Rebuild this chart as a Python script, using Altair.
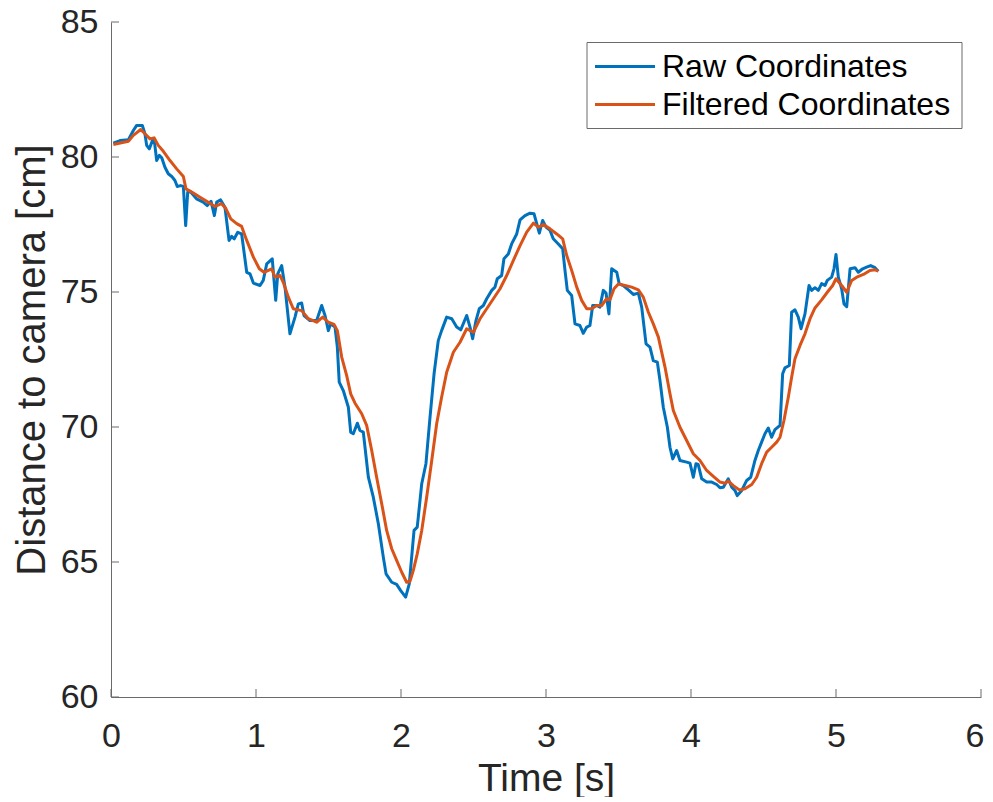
import altair as alt
import pandas as pd

# ---------------- data ----------------
series_names = ["Raw Coordinates", "Filtered Coordinates"]

raw_t = [0.016, 0.062, 0.12, 0.154, 0.177, 0.216, 0.234, 0.246, 0.264, 0.288, 0.30, 0.315, 0.333, 0.35,
         0.372, 0.395, 0.419, 0.441, 0.457, 0.48, 0.499, 0.515, 0.529, 0.545, 0.59, 0.636, 0.664, 0.69,
         0.713, 0.729, 0.756, 0.786, 0.814, 0.832, 0.85, 0.874, 0.901, 0.936, 0.959, 0.982, 1.028, 1.05,
         1.074, 1.112, 1.136, 1.15, 1.177, 1.2, 1.234, 1.269, 1.292, 1.315, 1.331, 1.372, 1.418, 1.453,
         1.476, 1.499, 1.515, 1.545, 1.561, 1.574, 1.602, 1.637, 1.653, 1.671, 1.699, 1.717, 1.74, 1.775,
         1.809, 1.844, 1.878, 1.897, 1.936, 1.97, 1.998, 2.032, 2.057, 2.09, 2.112, 2.143, 2.172, 2.2,
         2.228, 2.257, 2.28, 2.315, 2.35, 2.384, 2.412, 2.453, 2.476, 2.494, 2.517, 2.54, 2.568, 2.591,
         2.626, 2.648, 2.664, 2.694, 2.71, 2.74, 2.763, 2.798, 2.821, 2.855, 2.89, 2.917, 2.936, 2.954,
         2.977, 3.0, 3.028, 3.05, 3.085, 3.115, 3.131, 3.147, 3.177, 3.2, 3.234, 3.257, 3.281, 3.303,
         3.322, 3.349, 3.372, 3.395, 3.414, 3.434, 3.453, 3.488, 3.505, 3.533, 3.568, 3.602, 3.637, 3.66,
         3.69, 3.717, 3.74, 3.768, 3.786, 3.809, 3.837, 3.855, 3.874, 3.901, 3.924, 3.97, 3.993, 4.016,
         4.034, 4.05, 4.074, 4.108, 4.143, 4.177, 4.2, 4.223, 4.257, 4.281, 4.303, 4.319, 4.35, 4.384,
         4.412, 4.441, 4.464, 4.487, 4.51, 4.533, 4.556, 4.579, 4.614, 4.632, 4.648, 4.678, 4.694, 4.717,
         4.74, 4.759, 4.786, 4.814, 4.832, 4.855, 4.878, 4.901, 4.924, 4.94, 4.97, 4.986, 5.0, 5.016,
         5.039, 5.055, 5.074, 5.097, 5.131, 5.154, 5.184, 5.211, 5.239, 5.269, 5.292]
raw_v = [80.51, 80.61, 80.64, 80.98, 81.17, 81.17, 80.86, 80.43, 80.30, 80.64, 80.55, 79.87, 80.06, 79.97,
         79.62, 79.38, 79.28, 79.13, 78.91, 78.94, 78.91, 77.46, 78.70, 78.73, 78.45, 78.33, 78.20, 78.36,
         77.83, 78.33, 78.41, 78.14, 76.91, 77.06, 76.97, 77.21, 77.15, 75.73, 75.67, 75.33, 75.24, 75.43,
         76.04, 76.23, 74.69, 75.67, 75.98, 75.18, 73.45, 74.07, 74.56, 74.59, 74.13, 73.94, 73.94, 74.50,
         74.13, 73.57, 73.82, 73.70, 72.96, 71.66, 71.35, 70.73, 69.81, 69.75, 70.14, 69.87, 69.81, 68.14,
         67.40, 66.41, 65.18, 64.56, 64.25, 64.17, 63.94, 63.70, 64.19, 66.17, 66.29, 67.90, 68.64, 70.36,
         71.97, 73.20, 73.57, 74.07, 74.01, 73.70, 73.60, 74.13, 73.70, 73.27, 73.94, 74.38, 74.50, 74.75,
         75.06, 75.18, 75.49, 75.61, 76.23, 76.41, 76.78, 77.15, 77.67, 77.83, 77.92, 77.90, 77.53, 77.18,
         77.65, 77.40, 77.28, 76.97, 76.78, 76.60, 75.80, 75.06, 74.87, 73.82, 73.76, 73.47, 73.70, 73.76,
         74.50, 74.50, 74.44, 75.06, 74.96, 74.19, 75.86, 75.73, 75.30, 75.24, 75.08, 74.91, 74.96, 74.44,
         73.08, 72.96, 72.46, 72.40, 71.72, 70.73, 69.99, 69.25, 68.82, 69.13, 68.76, 68.70, 68.66, 68.14,
         68.64, 68.61, 68.08, 67.96, 67.96, 67.87, 67.75, 67.77, 68.08, 67.77, 67.65, 67.46, 67.65, 68.02,
         68.14, 68.76, 69.13, 69.44, 69.75, 69.96, 69.62, 69.90, 70.06, 71.97, 72.19, 72.28, 74.25, 74.34,
         74.07, 73.64, 74.19, 75.24, 75.06, 75.16, 75.06, 75.31, 75.24, 75.43, 75.55, 75.86, 76.39, 75.55,
         75.12, 74.56, 74.46, 75.86, 75.90, 75.73, 75.86, 75.92, 75.98, 75.90, 75.77]

filt_t = [0.016, 0.12, 0.154, 0.205, 0.234, 0.269, 0.297, 0.326, 0.361, 0.407, 0.453, 0.499, 0.517, 0.557,
          0.614, 0.66, 0.717, 0.763, 0.793, 0.826, 0.867, 0.901, 0.936, 0.982, 1.023, 1.055, 1.108, 1.131,
          1.166, 1.188, 1.223, 1.257, 1.315, 1.361, 1.418, 1.46, 1.499, 1.538, 1.561, 1.591, 1.625, 1.653,
          1.683, 1.729, 1.763, 1.798, 1.832, 1.867, 1.901, 1.936, 1.97, 2.005, 2.039, 2.062, 2.085, 2.112,
          2.143, 2.177, 2.212, 2.246, 2.28, 2.315, 2.361, 2.407, 2.453, 2.499, 2.545, 2.591, 2.637, 2.683,
          2.729, 2.775, 2.821, 2.867, 2.913, 2.947, 2.982, 3.028, 3.074, 3.115, 3.143, 3.177, 3.212, 3.246,
          3.281, 3.315, 3.349, 3.384, 3.418, 3.441, 3.469, 3.499, 3.545, 3.591, 3.637, 3.671, 3.706, 3.74,
          3.775, 3.821, 3.855, 3.878, 3.924, 3.97, 4.016, 4.062, 4.108, 4.154, 4.2, 4.234, 4.257, 4.292,
          4.333, 4.372, 4.419, 4.453, 4.487, 4.522, 4.556, 4.591, 4.614, 4.641, 4.671, 4.694, 4.717, 4.752,
          4.786, 4.821, 4.855, 4.901, 4.94, 4.977, 5.0, 5.039, 5.074, 5.108, 5.143, 5.189, 5.234, 5.269,
          5.292]
filt_v = [80.46, 80.58, 80.80, 81.02, 80.86, 80.67, 80.71, 80.43, 80.21, 79.87, 79.56, 79.28, 78.82, 78.70,
          78.51, 78.36, 78.17, 78.27, 78.08, 77.71, 77.53, 77.43, 76.91, 76.29, 75.86, 75.73, 75.86, 75.55,
          75.61, 75.36, 74.81, 74.38, 74.31, 74.01, 73.88, 74.07, 73.88, 73.80, 73.57, 72.59, 71.91, 71.23,
          70.88, 70.49, 70.06, 69.13, 68.14, 67.16, 66.17, 65.49, 65.06, 64.62, 64.25, 64.28, 64.69, 65.30,
          66.17, 67.40, 68.76, 70.12, 71.10, 72.03, 72.77, 73.14, 73.64, 73.51, 74.01, 74.38, 74.75, 75.12,
          75.61, 76.17, 76.72, 77.22, 77.55, 77.40, 77.50, 77.34, 77.15, 76.97, 76.35, 75.80, 75.18, 74.69,
          74.38, 74.38, 74.50, 74.50, 74.75, 74.71, 75.12, 75.30, 75.24, 75.18, 75.08, 74.81, 74.25, 73.82,
          73.33, 72.21, 71.23, 70.61, 69.99, 69.50, 69.01, 68.76, 68.39, 68.17, 67.96, 67.92, 68.00, 67.83,
          67.67, 67.71, 67.87, 68.14, 68.64, 69.07, 69.25, 69.44, 69.62, 70.24, 71.10, 71.84, 72.53, 73.02,
          73.45, 74.01, 74.41, 74.71, 74.99, 75.24, 75.49, 75.24, 74.99, 75.43, 75.55, 75.65, 75.80, 75.82,
          75.77]

x_ticks = [0, 1, 2, 3, 4, 5, 6]
y_ticks = [60, 65, 70, 75, 80, 85]

# ---------------- styling ----------------
W, H = 870, 675
COLORS = ["#0072BD", "#D95319"]
FONT = "Liberation Sans"
TXT = "#262626"
AXC = "#6a6a6a"
LW = 3

raw_df = pd.DataFrame({"t": raw_t, "v": raw_v, "series": series_names[0]})
filt_df = pd.DataFrame({"t": filt_t, "v": filt_v, "series": series_names[1]})
xt_df = pd.DataFrame({"t": x_ticks})
yt_df = pd.DataFrame({"v": y_ticks})

xscale = alt.Scale(domain=[x_ticks[0], x_ticks[-1]], nice=False, zero=False)
yscale = alt.Scale(domain=[y_ticks[0], y_ticks[-1]], nice=False, zero=False)

last_x = "datum.value == %d" % x_ticks[-1]
xaxis = alt.Axis(title="Time [s]", values=x_ticks, format="d", ticks=False, tickSize=0, grid=False,
                 labelFontSize=34, labelFont=FONT, labelColor=TXT, labelPadding=22, labelFlush=False,
                 labelAlign={"condition": {"test": last_x, "value": "right"}, "value": "center"},
                 labelOffset={"condition": {"test": last_x, "value": 3}, "value": 0},
                 labelOverlap=False, titleFontSize=39, titleFont=FONT, titleColor=TXT,
                 titleFontWeight="normal", titlePadding=6, domainColor=AXC, domainWidth=1)
yaxis = alt.Axis(title="Distance to camera [cm]", values=y_ticks, format="d", ticks=False, tickSize=0,
                 grid=False, labelFontSize=34, labelFont=FONT, labelColor=TXT, labelPadding=13,
                 labelFlush=False, labelOverlap=False, titleFontSize=40, titleFont=FONT, titleColor=TXT,
                 titleFontWeight="normal", titlePadding=8, domainColor=AXC, domainWidth=1)

X = alt.X("t:Q", scale=xscale, axis=xaxis)
Y = alt.Y("v:Q", scale=yscale, axis=yaxis)

raw_line = alt.Chart(raw_df).mark_line(color=COLORS[0], strokeWidth=LW, strokeJoin="round").encode(x=X, y=Y)
filt_line = alt.Chart(filt_df).mark_line(color=COLORS[1], strokeWidth=LW, strokeJoin="round").encode(x=X, y=Y)

# inward ticks
xticks_l = alt.Chart(xt_df).mark_rule(color=AXC, strokeWidth=1).encode(
    x=X, y=alt.value(H), y2=alt.value(H - 8))
yticks_l = alt.Chart(yt_df).mark_rule(color=AXC, strokeWidth=1).encode(
    y=Y, x=alt.value(0), x2=alt.value(8))

# manual legend (MATLAB style box)
one = pd.DataFrame({"series": [series_names[0]]})
two = pd.DataFrame({"series": [series_names[1]]})
LX0, LX1, LY0, LY1 = 476, 851, 20.5, 106.5
box = alt.Chart(one).mark_rect(fill="white", stroke=AXC, strokeWidth=1).encode(
    x=alt.value(LX0), x2=alt.value(LX1), y=alt.value(LY0), y2=alt.value(LY1))
rows = []
for i, (d, yy) in enumerate([(one, 44.5), (two, 82.5)]):
    rows.append(alt.Chart(d).mark_rule(color=COLORS[i], strokeWidth=LW).encode(
        x=alt.value(484), x2=alt.value(544), y=alt.value(yy)))
    rows.append(alt.Chart(d).mark_text(align="left", baseline="middle", font=FONT, fontSize=32,
                                       color="black").encode(
        x=alt.value(551), y=alt.value(yy), text="series:N"))

chart = alt.layer(raw_line, filt_line, xticks_l, yticks_l, box, *rows).properties(
    width=W, height=H,
    padding={"left": 103, "top": 14, "right": 4, "bottom": 100},
    autosize="none",
    background="white",
).configure_view(stroke=None)

chart.save("out.html", embed_options={"renderer": "svg", "actions": False})
